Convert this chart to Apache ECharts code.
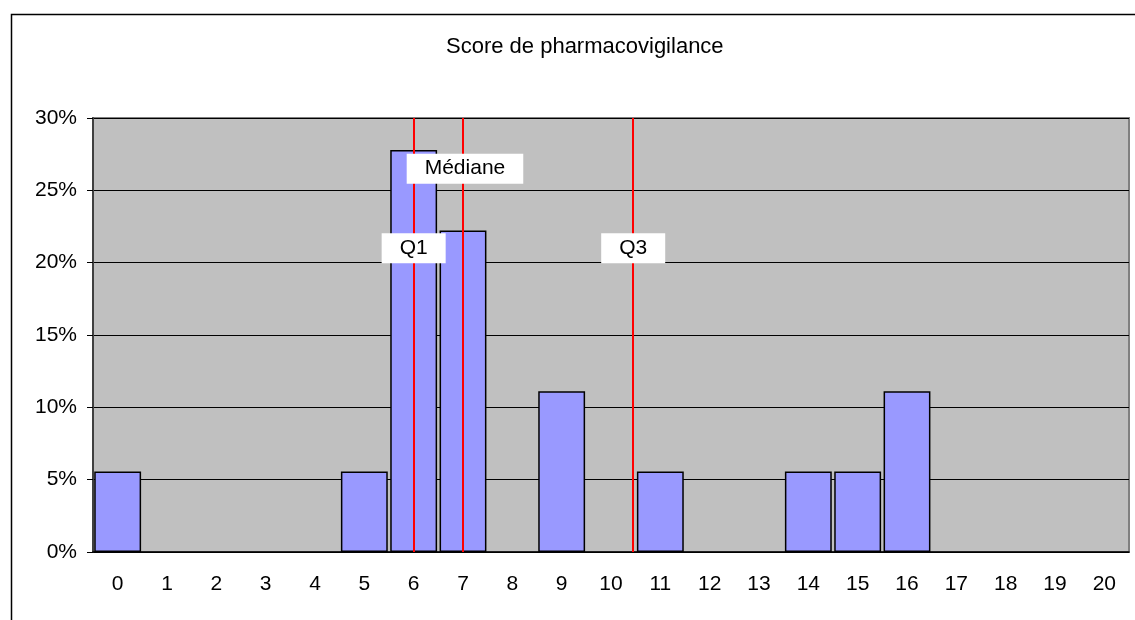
<!DOCTYPE html>
<html>
<head>
<meta charset="utf-8">
<script src="https://cdn.jsdelivr.net/npm/echarts@6/dist/echarts.min.js"></script>
<style>
  html, body { margin: 0; padding: 0; background: #fff; }
  #chart { width: 1135px; height: 620px; }
</style>
</head>
<body>
<div id="chart"></div>
<script>
'use strict';

// scores 0..20
var categories = ['0', '1', '2', '3', '4', '5', '6', '7', '8', '9', '10',
    '11', '12', '13', '14', '15', '16', '17', '18', '19', '20'];
var shares = [0.0556, 0, 0, 0, 0, 0.0556, 0.2778, 0.2222, 0, 0.1111, 0,
    0.0556, 0, 0, 0.0556, 0.0556, 0.1111, 0, 0, 0, 0];

// quartiles (red lines) and their labels
var quartileNames = ['Q1', 'Médiane', 'Q3'];
var quartileX = [6, 7, 10.45];
var labelX = [6, 7.04, 10.45];
var labelY = [0.21, 0.265, 0.21];

var font = 'Liberation Sans, Arial, sans-serif';

var myChart = echarts.init(document.getElementById('chart'));

var labelData = [];
for (var i = 0; i < quartileNames.length; i++) {
    labelData.push({ name: quartileNames[i], value: [labelX[i], labelY[i]] });
}

// empty bars are not drawn in the original (no border line at 0)
var barData = shares.map(function (v) { return v === 0 ? '-' : v; });

var option = {
    backgroundColor: '#fff',
    animation: false,
    textStyle: { fontFamily: font, color: '#000' },
    title: {
        text: 'Score de pharmacovigilance',
        left: 441,
        top: 31,
        textStyle: { fontFamily: font, fontSize: 22, fontWeight: 'normal', color: '#000' }
    },
    graphic: [{
        type: 'rect',
        left: 9,
        top: 12,
        shape: { width: 1200, height: 700 },
        style: { fill: 'none', stroke: '#000', lineWidth: 1.5 },
        silent: true
    }],
    grid: {
        left: 93,
        right: 6,
        top: 118,
        bottom: 68,
        show: true,
        backgroundColor: '#C0C0C0',
        borderColor: '#808080',
        borderWidth: 2
    },
    xAxis: [{
        type: 'category',
        data: categories,
        axisLine: { lineStyle: { color: '#000', width: 1.5 } },
        axisTick: { length: 6, lineStyle: { color: '#000' } },
        axisLabel: { fontFamily: font, fontSize: 21, color: '#000', margin: 22 },
        splitLine: { show: false }
    }, {
        type: 'value',
        min: -0.5,
        max: 20.5,
        show: false
    }],
    yAxis: {
        type: 'value',
        min: 0,
        max: 0.3,
        interval: 0.05,
        axisLine: { show: true, onZero: false, lineStyle: { color: '#404040', width: 2 } },
        axisTick: { show: true, length: 6, lineStyle: { color: '#000' } },
        axisLabel: {
            fontFamily: font,
            fontSize: 21,
            color: '#000',
            margin: 16,
            formatter: function (v) { return Math.round(v * 100) + '%'; }
        },
        splitLine: { lineStyle: { color: '#000', width: 1 } }
    },
    series: [{
        name: 'Score',
        type: 'bar',
        data: barData,
        barCategoryGap: '5%',
        itemStyle: { color: '#9999FF', borderColor: '#000', borderWidth: 1.5 }
    }, {
        name: 'Quartiles',
        type: 'scatter',
        xAxisIndex: 1,
        data: labelData,
        symbolSize: 0,
        z: 10,
        itemStyle: { opacity: 1 },
        label: {
            show: true,
            position: 'inside',
            formatter: '{b}',
            fontFamily: font,
            fontSize: 21,
            color: '#000',
            backgroundColor: '#fff',
            padding: [4, 18],
            lineHeight: 22
        },
        markLine: {
            silent: true,
            symbol: 'none',
            label: { show: false },
            lineStyle: { color: '#FF0000', width: 2, type: 'solid', opacity: 1 },
            data: quartileX.map(function (x) { return { xAxis: x }; })
        }
    }]
};

myChart.setOption(option);
</script>
</body>
</html>
